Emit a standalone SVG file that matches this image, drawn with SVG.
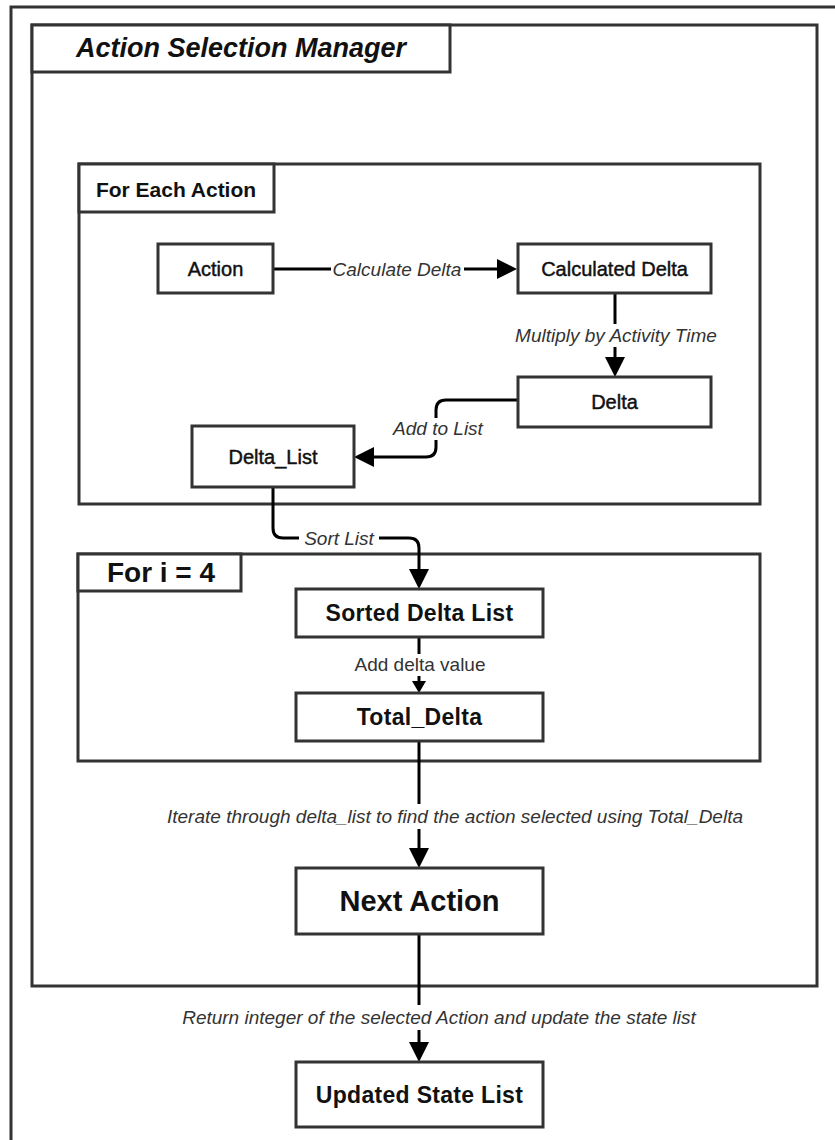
<svg xmlns="http://www.w3.org/2000/svg" width="835" height="1140" viewBox="0 0 835 1140">
  <defs>
    <style>
      .frame { fill: none; stroke: #333; stroke-width: 3; }
      .box { fill: #fff; stroke: #333; stroke-width: 3; }
      .wire { fill: none; stroke: #000; stroke-width: 3; }
      .lbl { font-family: "Liberation Sans", Arial, sans-serif; font-size: 19px; font-style: italic; fill: #333; text-anchor: middle; }
      .lbl-plain { font-family: "Liberation Sans", Arial, sans-serif; font-size: 19px; fill: #333; text-anchor: middle; }
      .bg { fill: #fff; }
      .txt { font-family: "Liberation Sans", Arial, sans-serif; font-size: 20px; fill: #111; stroke: #111; stroke-width: 0.45; text-anchor: middle; }
      .txt-b { font-family: "Liberation Sans", Arial, sans-serif; font-weight: bold; font-size: 23px; fill: #111; text-anchor: middle; letter-spacing: 0.3px; }
      .hdr { font-family: "Liberation Sans", Arial, sans-serif; font-weight: bold; fill: #111; text-anchor: middle; }
    </style>
    <marker id="arrow" markerUnits="userSpaceOnUse" markerWidth="20" markerHeight="20" refX="0" refY="10" orient="auto">
      <path d="M0,0 L20,10 L0,20 Z" fill="#000"/>
    </marker>
    <marker id="arrow-sm" markerUnits="userSpaceOnUse" markerWidth="12" markerHeight="14" refX="0" refY="7" orient="auto">
      <path d="M0,0 L12,7 L0,14 Z" fill="#000"/>
    </marker>
  </defs>

  <rect width="835" height="1140" fill="#fff"/>

  <!-- page frame (open towards right and bottom) -->
  <path class="frame" d="M11,1140 V7 H835"/>

  <!-- containers -->
  <g id="action-selection-manager">
    <rect class="box" x="32" y="25" width="785" height="961"/>
    <rect class="box" x="32" y="25" width="418" height="47"/>
    <text class="hdr" x="241" y="57" font-size="27" font-style="italic">Action Selection Manager</text>
  </g>

  <g id="for-each-action">
    <rect class="box" x="79" y="164" width="681" height="340"/>
    <rect class="box" x="79" y="164" width="195" height="48"/>
    <text class="hdr" x="176" y="197" font-size="21">For Each Action</text>
  </g>

  <g id="for-i-4">
    <rect class="box" x="78" y="554" width="682" height="207"/>
    <rect class="box" x="78" y="554" width="163" height="37"/>
    <text class="hdr" x="161" y="582" font-size="28">For i = 4</text>
  </g>

  <!-- connectors -->
  <g id="connectors">
    <path class="wire" d="M273,269 H497" marker-end="url(#arrow)"/>
    <path class="wire" d="M615,293 V357" marker-end="url(#arrow)"/>
    <path class="wire" d="M518,400 H446 Q436,400 436,410 V447 Q436,457 426,457 H374" marker-end="url(#arrow)"/>
    <path class="wire" d="M273,487 V528 Q273,538 283,538 H409 Q419,538 419,548 V569" marker-end="url(#arrow)"/>
    <path class="wire" d="M419,637 V681" marker-end="url(#arrow-sm)"/>
    <path class="wire" d="M419,741 V848" marker-end="url(#arrow)"/>
    <path class="wire" d="M419,934 V1042" marker-end="url(#arrow)"/>

    <rect class="bg" x="331" y="259" width="133" height="22"/>
    <text class="lbl" x="397" y="276">Calculate Delta</text>

    <rect class="bg" x="511" y="324" width="210" height="23"/>
    <text class="lbl" x="616" y="342">Multiply by Activity Time</text>

    <rect class="bg" x="390" y="418" width="96" height="22"/>
    <text class="lbl" x="438" y="435">Add to List</text>

    <rect class="bg" x="299" y="528" width="80" height="22"/>
    <text class="lbl" x="339" y="545">Sort List</text>

    <rect class="bg" x="353" y="654" width="134" height="22"/>
    <text class="lbl-plain" x="420" y="671">Add delta value</text>

    <rect class="bg" x="156" y="804" width="598" height="25"/>
    <text class="lbl" x="455" y="823">Iterate through delta_list to find the action selected using Total_Delta</text>

    <rect class="bg" x="188" y="1005" width="502" height="25"/>
    <text class="lbl" x="439" y="1024">Return integer of the selected Action and update the state list</text>
  </g>

  <!-- nodes -->
  <g id="action">
    <rect class="box" x="158" y="244" width="115" height="49"/>
    <text class="txt" x="215.5" y="276">Action</text>
  </g>

  <g id="calculated-delta">
    <rect class="box" x="518" y="244" width="193" height="49"/>
    <text class="txt" x="614.5" y="276">Calculated Delta</text>
  </g>

  <g id="delta">
    <rect class="box" x="518" y="377" width="193" height="50"/>
    <text class="txt" x="614.5" y="409">Delta</text>
  </g>

  <g id="delta-list">
    <rect class="box" x="192" y="426" width="162" height="61"/>
    <text class="txt" x="273" y="464">Delta_List</text>
  </g>

  <g id="sorted-delta-list">
    <rect class="box" x="296" y="589" width="247" height="48"/>
    <text class="txt-b" x="419.5" y="621">Sorted Delta List</text>
  </g>

  <g id="total-delta">
    <rect class="box" x="296" y="693" width="247" height="48"/>
    <text class="txt-b" x="419.5" y="725">Total_Delta</text>
  </g>

  <g id="next-action">
    <rect class="box" x="296" y="868" width="247" height="66"/>
    <text class="hdr" x="419.5" y="911" font-size="29">Next Action</text>
  </g>

  <g id="updated-state-list">
    <rect class="box" x="296" y="1062" width="247" height="65"/>
    <text class="txt-b" x="419.5" y="1103">Updated State List</text>
  </g>
</svg>
